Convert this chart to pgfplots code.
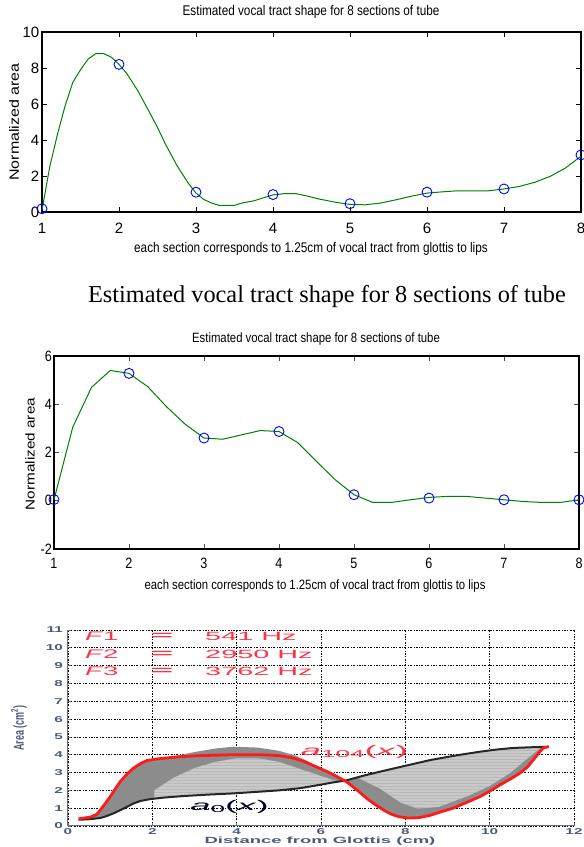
\documentclass[border=0pt]{standalone}
\usepackage{fontspec}
\setmainfont{Liberation Sans}
\newfontfamily\serf{Liberation Serif}
\newfontfamily\cnd[FakeStretch=0.84]{Liberation Sans}
\newfontfamily\wide[FakeStretch=1.8]{Liberation Sans}
\newfontfamily\wider[FakeStretch=2.2]{Liberation Sans}
\usepackage{pgfplots}
\pgfplotsset{compat=1.18}
\usetikzlibrary{patterns}
\definecolor{mgreen}{RGB}{0,128,0}
\definecolor{mblue}{RGB}{0,0,255}
\definecolor{lbl}{HTML}{4A5A7A}
\definecolor{fred}{HTML}{FF3347}
\definecolor{cred}{HTML}{FF1A1A}
\definecolor{dgray}{HTML}{8C8C8C}
\definecolor{lgray}{HTML}{C9C9C9}
\definecolor{agray}{HTML}{707070}
\newcommand\eqs{\scalebox{3.2}[1]{\bfseries\fontsize{12}{12}\selectfont =}}

% panel 1 circles and curve
\pgfplotstableread{
x y
1 0.18
2 8.2
3 1.1
4 0.97
5 0.46
6 1.1
7 1.28
8 3.17
}\circA
\pgfplotstableread{
x y
1 0.1
1.1 2.5
1.2 4.3
1.3 5.9
1.4 7.2
1.5 7.9
1.6 8.5
1.7 8.8
1.8 8.8
1.9 8.6
2.0 8.2
2.1 7.7
2.25 6.7
2.4 5.5
2.5 4.7
2.6 3.8
2.75 2.6
2.9 1.6
3.0 1.05
3.1 0.7
3.2 0.5
3.3 0.37
3.5 0.37
3.6 0.5
3.75 0.62
3.9 0.82
4.0 0.95
4.15 1.02
4.3 1.02
4.45 0.88
4.6 0.72
4.8 0.55
5.0 0.42
5.2 0.4
5.4 0.5
5.6 0.68
5.8 0.88
6.0 1.05
6.2 1.12
6.4 1.18
6.8 1.18
7.0 1.28
7.2 1.42
7.4 1.65
7.6 1.98
7.8 2.45
8.0 3.1
}\curveA
% panel 2
\pgfplotstableread{
x y
1 0.05
2 5.28
3 2.6
4 2.87
5 0.25
6 0.11
7 0.04
8 0.04
}\circB
\pgfplotstableread{
x y
1 0.04
1.25 3.05
1.5 4.7
1.75 5.4
2 5.28
2.25 4.73
2.5 3.9
2.75 3.17
3 2.6
3.25 2.55
3.5 2.73
3.75 2.91
4 2.87
4.25 2.41
4.5 1.63
4.75 0.87
5 0.25
5.25 -0.07
5.5 -0.07
5.75 0.04
6 0.14
6.25 0.18
6.5 0.18
6.75 0.11
7 0.04
7.25 -0.03
7.5 -0.07
7.75 -0.07
8 0.04
}\curveB
% panel 3
\pgfplotstableread{
x y
0.25 0.40
0.53 0.50
0.68 0.65
0.77 0.90
0.88 1.25
1.00 1.64
1.12 2.08
1.24 2.49
1.40 2.92
1.55 3.24
1.70 3.48
1.87 3.67
2.10 3.76
2.60 3.88
3.13 3.95
3.92 4.00
4.60 4.00
5.00 3.95
5.30 3.84
5.60 3.62
5.88 3.33
6.23 2.96
6.60 2.49
6.80 2.12
6.95 1.83
7.10 1.52
7.30 1.18
7.48 0.90
7.66 0.67
7.85 0.52
8.05 0.45
8.30 0.46
8.59 0.60
8.85 0.80
9.13 1.00
9.45 1.32
9.77 1.65
10.00 1.95
10.24 2.30
10.50 2.65
10.72 2.97
10.90 3.32
11.03 3.70
11.15 4.05
11.27 4.38
11.40 4.45
}\redA
\pgfplotstableread{
x y
0.25 0.35
0.50 0.38
0.77 0.45
0.92 0.56
1.08 0.71
1.25 0.90
1.40 1.08
1.55 1.26
1.71 1.40
1.95 1.51
2.30 1.60
2.73 1.68
3.30 1.76
3.92 1.83
4.50 1.92
5.00 2.00
5.50 2.12
6.00 2.32
6.22 2.42
6.60 2.56
7.00 2.82
7.40 3.05
8.00 3.38
8.59 3.70
9.20 3.96
9.77 4.17
10.20 4.30
10.56 4.38
11.00 4.42
11.40 4.45
}\blackA

\begin{document}
\begin{tikzpicture}[x=1pt,y=1pt]
\path[use as bounding box] (0,0) rectangle (584,847);

% ---------- panel 1
\begin{axis}[at={(42pt,635pt)}, anchor=south west, scale only axis,
  width=539pt, height=180pt, xmin=1, xmax=8, ymin=0, ymax=10,
  xtick={1,...,8}, xticklabels={1,2,3,4,5,6,7,8},
  ytick={0,2,...,10}, yticklabels={0,2,4,6,8,10},
  tick align=inside, major tick length=5pt,
  axis line style={line width=1.3pt},
  every tick/.style={black, line width=0.9pt},
  ticklabel style={font=\fontsize{15}{15}\selectfont},
  xticklabel style={anchor=center, yshift=-16pt},
  yticklabel style={anchor=east, inner sep=0pt, xshift=-2.5pt}]
\addplot[mgreen, line width=1pt] table {\curveA};
\addplot[only marks, mark=o, mark size=5pt, mblue, mark options={line width=0.9pt}] table {\circA};
\end{axis}
\node at (311,835) {\cnd\fontsize{14}{14}\selectfont Estimated vocal tract shape for 8 sections of tube};
\node at (311,598) {\cnd\fontsize{14}{14}\selectfont each section corresponds to 1.25cm of vocal tract from glottis to lips};
\node[rotate=90] at (14,725) {\scalebox{1}[0.84]{\fontsize{16}{16}\selectfont Normalized area}};

% ---------- panel 2
\node at (327,550) {\serf\fontsize{24.3}{24.3}\selectfont Estimated vocal tract shape for 8 sections of tube};
\begin{axis}[at={(54pt,298pt)}, anchor=south west, scale only axis,
  width=525pt, height=193pt, xmin=1, xmax=8, ymin=-2, ymax=6,
  xtick={1,...,8}, xticklabels={1,2,3,4,5,6,7,8},
  ytick={-2,0,2,4,6}, yticklabels={-2,0,2,4,6},
  tick align=inside, major tick length=5pt,
  axis line style={line width=1.3pt},
  every tick/.style={black!70, line width=0.9pt},
  ticklabel style={font=\cnd\fontsize{15}{15}\selectfont},
  xticklabel style={anchor=center, yshift=-14pt},
  yticklabel style={anchor=east, inner sep=0pt, xshift=-2pt}]
\addplot[mgreen, line width=1pt] table {\curveB};
\addplot[only marks, mark=o, mark size=5pt, mblue, mark options={line width=0.9pt}] table {\circB};
\end{axis}
\node at (316,508) {\cnd\fontsize{13.5}{13.5}\selectfont Estimated vocal tract shape for 8 sections of tube};
\node at (315,261) {\cnd\fontsize{13.5}{13.5}\selectfont each section corresponds to 1.25cm of vocal tract from glottis to lips};
\node[rotate=90] at (30,393) {\scalebox{1}[0.84]{\fontsize{15.3}{15.3}\selectfont Normalized area}};

% ---------- panel 3
\begin{axis}[at={(68pt,21pt)}, anchor=south west, scale only axis,
  width=506pt, height=196pt, xmin=0, xmax=12, ymin=0, ymax=11,
  axis lines=left, axis line style={-, agray, line width=1pt},
  xtick={0,2,...,12}, xticklabels={0,2,4,6,8,10,12},
  ytick={0,...,11}, yticklabels={0,1,2,3,4,5,6,7,8,9,10,11},
  tick align=inside, major tick length=3pt,
  every tick/.style={agray, line width=0.8pt},
  grid=major,
  major grid style={black, line width=0.8pt, dash pattern=on 2pt off 1.5pt on 0.7pt off 1.5pt},
  ticklabel style={font=\wide\bfseries\fontsize{8.5}{8.5}\selectfont, text=lbl},
  xticklabel style={anchor=center, yshift=-6pt},
  yticklabel style={anchor=east, inner sep=0pt, xshift=-5pt}]
% outer band between the two boundary shapes
\addplot[fill=dgray, draw=none] coordinates {
(0.25,0.40) (0.53,0.50) (0.68,0.65) (0.77,0.90) (0.88,1.25) (1.00,1.64) (1.12,2.08)
(1.24,2.49) (1.40,2.92) (1.55,3.24) (1.70,3.48) (1.87,3.67) (2.10,3.76) (2.60,3.88)
(3.13,3.95) (3.92,4.00) (4.60,4.00) (5.00,3.95) (5.30,3.84) (5.60,3.62) (5.88,3.33)
(6.23,2.96) (6.60,2.49) (6.80,2.12) (6.95,1.83) (7.10,1.52) (7.30,1.18) (7.48,0.90)
(7.66,0.67) (7.85,0.52) (8.05,0.45) (8.30,0.46) (8.59,0.60) (8.85,0.80) (9.13,1.00)
(9.45,1.32) (9.77,1.65) (10.00,1.95) (10.24,2.30) (10.50,2.65) (10.72,2.97) (10.90,3.32)
(11.03,3.70) (11.15,4.05) (11.27,4.38) (11.40,4.45)
(11.00,4.42) (10.56,4.38) (10.20,4.30) (9.77,4.17) (9.20,3.96) (8.59,3.70) (8.00,3.38)
(7.40,3.05) (7.00,2.82) (6.60,2.56) (6.22,2.42) (6.00,2.32) (5.50,2.12) (5.00,2.00)
(4.50,1.92) (3.92,1.83) (3.30,1.76) (2.73,1.68) (2.30,1.60) (1.95,1.51) (1.71,1.40)
(1.55,1.26) (1.40,1.08) (1.25,0.90) (1.08,0.71) (0.92,0.56) (0.77,0.45) (0.50,0.38)
(0.25,0.35)} -- cycle;
% hump above the last shape
\addplot[fill=dgray, draw=none] coordinates {
(2.10,3.76) (2.6,3.95) (3.0,4.15) (3.5,4.35) (3.92,4.45) (4.5,4.40) (5.0,4.22)
(5.4,3.95) (5.7,3.62) (5.88,3.33) (5.60,3.62) (5.30,3.84) (5.00,3.95) (4.60,4.00)
(3.92,4.00) (3.13,3.95) (2.60,3.88)} -- cycle;
% lighter inner family of shapes
\addplot[fill=lgray, draw=none] coordinates {
(2.05,1.56) (2.05,2.0) (2.5,2.7) (3,3.25) (3.5,3.6) (4,3.8) (4.5,3.8) (5,3.6)
(5.5,3.2) (6,2.8) (6.4,2.5) (6.0,2.32) (5.0,2.0) (4.0,1.84) (3.0,1.72)} -- cycle;
\addplot[pattern=horizontal lines, pattern color=gray!55, draw=none] coordinates {
(2.05,1.56) (2.05,2.0) (2.5,2.7) (3,3.25) (3.5,3.6) (4,3.8) (4.5,3.8) (5,3.6)
(5.5,3.2) (6,2.8) (6.4,2.5) (6.0,2.32) (5.0,2.0) (4.0,1.84) (3.0,1.72)} -- cycle;
\addplot[fill=lgray, draw=none] coordinates {
(6.9,2.68) (7.4,2.1) (7.9,1.3) (8.3,0.98) (8.8,1.08) (9.5,1.7) (10,2.25) (10.5,3.0)
(10.9,3.8) (11.2,4.38) (10.86,4.40) (10,4.22) (9,3.88) (8,3.36) (7,2.83)} -- cycle;
\addplot[pattern=horizontal lines, pattern color=gray!55, draw=none] coordinates {
(6.9,2.68) (7.4,2.1) (7.9,1.3) (8.3,0.98) (8.8,1.08) (9.5,1.7) (10,2.25) (10.5,3.0)
(10.9,3.8) (11.2,4.38) (10.86,4.40) (10,4.22) (9,3.88) (8,3.36) (7,2.83)} -- cycle;
\addplot[black!85, line width=2pt] table {\blackA};
\addplot[cred, line width=2.8pt] table {\redA};
% formant annotations
\node[anchor=west, text=fred, inner sep=0pt] at (axis cs:0.40,10.63) {\wider\fontsize{12.5}{12.5}\selectfont\textit{F}1};
\node[anchor=west, text=fred, inner sep=0pt] at (axis cs:0.40,9.63) {\wider\fontsize{12.5}{12.5}\selectfont\textit{F}2};
\node[anchor=west, text=fred, inner sep=0pt] at (axis cs:0.40,8.66) {\wider\fontsize{12.5}{12.5}\selectfont\textit{F}3};
\node[text=fred, inner sep=0pt] at (axis cs:2.23,10.63) {\eqs};
\node[text=fred, inner sep=0pt] at (axis cs:2.23,9.63) {\eqs};
\node[text=fred, inner sep=0pt] at (axis cs:2.23,8.66) {\eqs};
\node[anchor=west, text=fred, inner sep=0pt] at (axis cs:3.25,10.63) {\scalebox{2.4}[1]{\fontsize{12}{12}\selectfont 541 Hz}};
\node[anchor=west, text=fred, inner sep=0pt] at (axis cs:3.25,9.63) {\scalebox{2.4}[1]{\fontsize{12}{12}\selectfont 2950 Hz}};
\node[anchor=west, text=fred, inner sep=0pt] at (axis cs:3.25,8.66) {\scalebox{2.4}[1]{\fontsize{12}{12}\selectfont 3762 Hz}};
\node[anchor=west, text=fred, inner sep=0pt] at (axis cs:5.52,4.17) {\scalebox{2.6}[1]{\fontsize{14}{14}\selectfont\textit{a}\raisebox{-0.35ex}{\fontsize{10}{10}\selectfont 104}(\textit{x})}};
\node[anchor=west, text=black!85!blue, inner sep=0pt] at (axis cs:2.90,1.09) {\scalebox{2.6}[1]{\fontsize{14}{14}\selectfont\textit{a}\raisebox{-0.35ex}{\fontsize{10}{10}\selectfont 0}(\textit{x})}};
\end{axis}
\node[text=lbl] at (320,6) {\scalebox{2.05}[1]{\bfseries\fontsize{9}{9}\selectfont Distance from Glottis (cm)}};
\node[rotate=90, text=lbl] at (19,119) {\scalebox{1}[1.6]{\bfseries\fontsize{9}{9}\selectfont Area (cm\textsuperscript{2})}};
\end{tikzpicture}
\end{document}
